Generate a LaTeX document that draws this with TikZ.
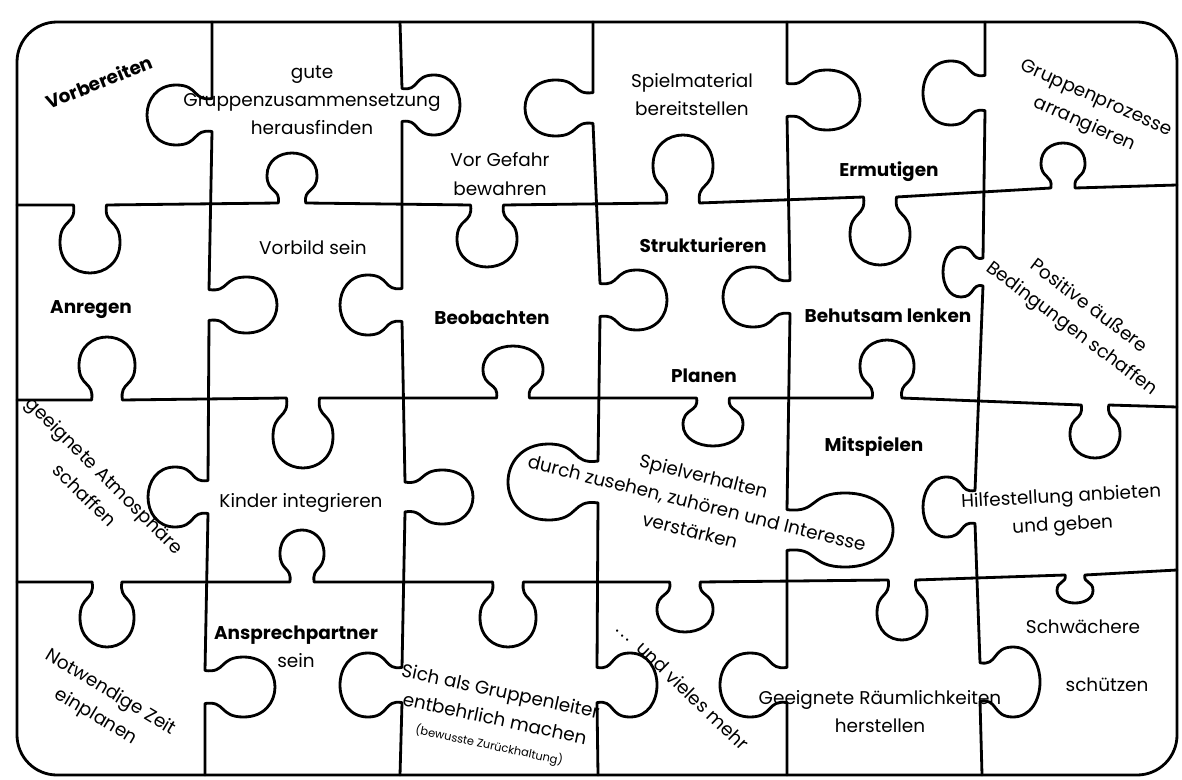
\documentclass[tikz,border=0pt]{standalone}
\usepackage{fontspec}
\setmainfont{Poppins}

% knob on a horizontal seam: centre x, seam y, depth, half width
\newcommand{\hknob}[4]{%
  -- ({#1-0.55*#4},#2)
  .. controls ({#1-0.45*#4},{#2+0.3*(#3)}) and ({#1-#4},{#2+0.2*(#3)}) .. ({#1-#4},{#2+0.55*(#3)})
  .. controls ({#1-#4},{#2+1.15*(#3)}) and ({#1+#4},{#2+1.15*(#3)}) .. ({#1+#4},{#2+0.55*(#3)})
  .. controls ({#1+#4},{#2+0.2*(#3)}) and ({#1+0.45*#4},{#2+0.3*(#3)}) .. ({#1+0.55*#4},#2)}
% knob on a vertical seam: centre y, seam x, depth, half width
\newcommand{\vknob}[4]{%
  -- (#2,{#1-0.55*#4})
  .. controls ({#2+0.3*(#3)},{#1-0.45*#4}) and ({#2+0.2*(#3)},{#1-#4}) .. ({#2+0.55*(#3)},{#1-#4})
  .. controls ({#2+1.15*(#3)},{#1-#4}) and ({#2+1.15*(#3)},{#1+#4}) .. ({#2+0.55*(#3)},{#1+#4})
  .. controls ({#2+0.2*(#3)},{#1+#4}) and ({#2+0.3*(#3)},{#1+0.45*#4}) .. (#2,{#1+0.55*#4})}

\begin{document}
\begin{tikzpicture}[
  x=0.02cm, y=-0.02cm,
  piece/.style={line width=1.6pt, line join=round, line cap=round},
  lbl/.style={align=center, inner sep=1pt, font=\fontsize{10.5}{16}\selectfont},
  key/.style={lbl, font=\fontsize{10.5}{16}\selectfont\bfseries}
]
\useasboundingbox (0,0) rectangle (1182,780);

% Frame
\draw[piece, rounded corners=8mm] (17,22) rectangle (1177,775);

% Horizontal seams
\draw[piece] (17,205) \hknob{90}{205}{68}{30} \hknob{292}{203}{-50}{25}
  \hknob{487}{205}{62}{30} \hknob{683}{203}{-68}{30} \hknob{880}{197}{68}{30}
  \hknob{1063}{188}{-45}{22} -- (1177,185);
\draw[piece] (17,400) \hknob{107}{400}{-63}{28} \hknob{303}{398}{70}{30}
  \hknob{513}{398}{-52}{30} \hknob{713}{398}{48}{30} \hknob{887}{398}{-58}{27}
  \hknob{1095}{405}{53}{25} -- (1177,407);
\draw[piece] (17,582) \hknob{107}{582}{65}{27} \hknob{302}{582}{-52}{22}
  \hknob{508}{582}{65}{28} \hknob{685}{582}{50}{28} \hknob{902}{580}{60}{25}
  \hknob{1075}{575}{28}{18} -- (1177,570);

% Vertical seams
\draw[piece] (212,22) \vknob{115}{212}{-65}{30} \vknob{305}{209}{68}{28}
  \vknob{497}{208}{-60}{30} \vknob{687}{205}{70}{30} -- (205,775);
\draw[piece] (400,22) \vknob{105}{402}{58}{30} \vknob{305}{402}{-62}{30}
  \vknob{497}{405}{68}{27} \vknob{685}{402}{-62}{32} -- (400,775);
\draw[piece] (593,22) \vknob{108}{593}{-68}{28} \vknob{300}{600}{67}{30}
  \vknob{482}{598}{-90}{38} \vknob{685}{597}{60}{32} -- (598,775);
\draw[piece] (787,22) \vknob{100}{787}{73}{30} \vknob{297}{790}{-67}{30}
  \vknob{530}{787}{106}{37} \vknob{685}{787}{-67}{32} -- (787,775);
\draw[piece] (985,22) \vknob{93}{985}{-62}{32} \vknob{272}{983}{-40}{25}
  \vknob{507}{975}{-52}{30} \vknob{682}{980}{60}{35} -- (982,775);

% Row 1
\node[key, rotate=22] (vorbereiten) at (99,82) {Vorbereiten};
\node[lbl] (gruppe) at (312,100) {gute\\Gruppenzusammensetzung\\herausfinden};
\node[lbl] (gefahr) at (500,174) {Vor Gefahr\\bewahren};
\node[lbl] (material) at (692,95) {Spielmaterial\\bereitstellen};
\node[key] (ermutigen) at (889,172) {Ermutigen};
\node[lbl, rotate=-24] (prozesse) at (1090,112) {Gruppenprozesse\\arrangieren};

% Row 2
\node[key] (anregen) at (91,310) {Anregen};
\node[lbl] (vorbild) at (313,248) {Vorbild sein};
\node[key] (beobachten) at (492,318) {Beobachten};
\node[key] (struktur) at (703,245) {Strukturieren};
\node[key] (planen) at (704,376) {Planen};
\node[key] (lenken) at (888,316) {Behutsam lenken};
\node[lbl, rotate=-37] (bedingungen) at (1080,318) {Positive äußere\\Bedingungen schaffen};

% Row 3
\node[lbl, rotate=-45] (atmosphaere) at (95,485) {geeignete Atmosphäre\\schaffen};
\node[lbl] (integrieren) at (301,503) {Kinder integrieren};
\node[lbl, rotate=-14] (spielverhalten) at (697,503)
  {Spielverhalten\\durch zusehen, zuhören und Interesse\\verstärken};
\node[key] (mitspielen) at (874,447) {Mitspielen};
\node[lbl, rotate=3] (hilfe) at (1062,512) {Hilfestellung anbieten\\und geben};

% Row 4
\node[lbl, rotate=-31] (zeit) at (103,705) {Notwendige Zeit\\einplanen};
\node[lbl] (ansprech) at (296,647) {{\bfseries Ansprechpartner}\\sein};
\node[lbl, rotate=-12] (leiter) at (495,718)
  {Sich als Gruppenleiter\\entbehrlich machen\\[-2pt]{\fontsize{6.5}{8}\selectfont (bewusste Zurückhaltung)}};
\node[lbl, rotate=-44] (mehr) at (683,686) {.\,.\,.\ \ und vieles mehr};
\node[lbl] (raeume) at (880,712) {Geeignete Räumlichkeiten\\herstellen};
\node[lbl] (schwaech) at (1083,627) {Schwächere};
\node[lbl] (schuetz) at (1107,685) {schützen};

\end{tikzpicture}
\end{document}
